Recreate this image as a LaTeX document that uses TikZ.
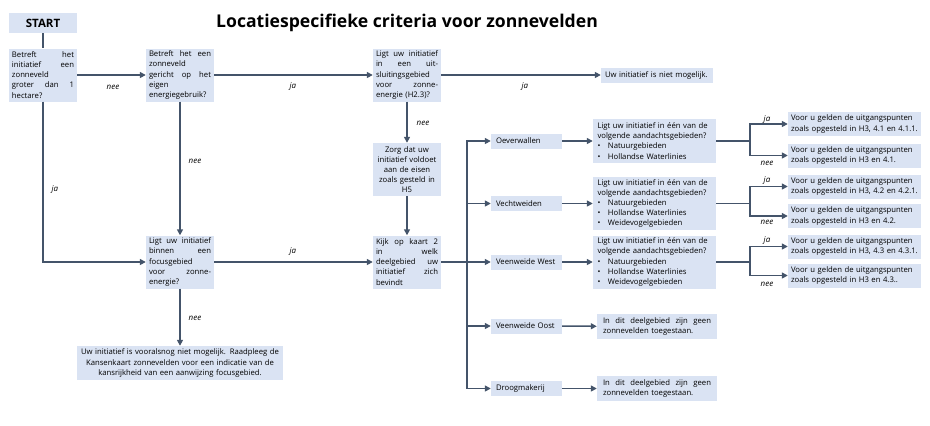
\documentclass[tikz,border=0pt]{standalone}
\usepackage{fontspec}
\setmainfont{Open Sans}
\usetikzlibrary{arrows.meta,positioning}
\definecolor{boxblue}{RGB}{218,227,243}
\definecolor{linegray}{RGB}{68,84,106}
\newcommand{\jl}[1]{{\spaceskip=0pt\xspaceskip=0pt\makebox[\hsize][s]{#1}}}
\newcommand{\bul}[1]{\makebox[10.5pt][l]{\textbullet}#1}
\tikzset{%
  >={Triangle[width=6pt,length=6pt]},
  % Specifications for style of nodes:
       base/.style = {rectangle, fill=boxblue, inner xsep=4pt, inner ysep=1pt,
                      font=\fontsize{7.7}{10.1}\selectfont},
   startbox/.style = {base, minimum width=68pt, minimum height=20pt,
                      font=\bfseries\fontsize{11.5}{13}\selectfont},
   decision/.style = {base, text width=62pt, inner xsep=3pt, minimum height=53pt, align=left},
     action/.style = {decision, align=center},
     region/.style = {base, text width=61pt, inner xsep=5pt, minimum height=15pt, align=left},
      areaq/.style = {base, text width=114pt, inner xsep=4.5pt, minimum height=53pt, align=left},
    outcome/.style = {base, text width=127pt, inner xsep=3pt, minimum height=24pt, align=left},
    refusal/.style = {base, text width=108pt, inner xsep=6pt, minimum height=25pt, align=left},
       stop/.style = {base, text width=104pt, inner xsep=4pt, minimum height=15pt, align=left},
     answer/.style = {font=\itshape\fontsize{8}{10}\selectfont},
}

\begin{document}
\begin{tikzpicture}[x=1pt, y=-1pt,
    flow/.style={draw=linegray, line width=1.5pt}]
    \useasboundingbox (0,0) rectangle (930,426);

    \node (title) at (407,23) {\bfseries\fontsize{17.6}{20}\selectfont Locatiespecifieke criteria voor zonnevelden};

    \node (start) [startbox] at (43,23) {START};
    \node (hectare) [decision] at (43,75) {\jl{Betreft het}\\ \jl{initiatief een}\\ zonneveld\\ \jl{groter dan 1}\\ hectare?};
    \node (eigen) [decision] at (180,75) {\jl{Betreft het een}\\ zonneveld\\ \jl{gericht op het}\\ eigen\\ energiegebruik?};
    \node (uitsluit) [decision] at (407,75) {\jl{Ligt uw initiatief}\\ \jl{in een uit-}\\ sluitingsgebied\\ \jl{voor zonne-}\\ energie (H2.3)?};
    \node (nietmog) [stop] at (657,75) {Uw initiatief is niet mogelijk.};
    \node (eisen) [action] at (407,169.5) {Zorg dat uw\\ initiatief voldoet\\ aan de eisen\\ zoals gesteld in\\ H5};
    \node (kaart) [decision] at (407,262) {\jl{Kijk op kaart 2}\\ \jl{in welk}\\ \jl{deelgebied uw}\\ \jl{initiatief zich}\\ bevindt};
    \node (focus) [decision] at (180,262) {\jl{Ligt uw initiatief}\\ \jl{binnen een}\\ focusgebied\\ \jl{voor zonne-}\\ energie?};
    \node (vooralsnog) [base, text width=200pt, inner xsep=3pt, minimum height=34pt, align=center] at (180,363)
        {Uw initiatief is vooralsnog niet mogelijk. Raadpleeg de\\ Kansenkaart zonnevelden voor een indicatie van de\\ kansrijkheid van een aanwijzing focusgebied.};

    % deelgebieden
    \node (oever) [region] at (526.5,141) {Oeverwallen};
    \node (vecht) [region] at (526.5,203.5) {Vechtweiden};
    \node (vwest) [region] at (526.5,262) {Veenweide West};
    \node (voost) [region] at (526.5,326) {Veenweide Oost};
    \node (droog) [region] at (526.5,388.5) {Droogmakerij};

    \node (q1) [areaq, minimum height=44pt] at (654.5,141) {Ligt uw initiatief in één van de\\ volgende aandachtsgebieden?\\ \bul{Natuurgebieden}\\ \bul{Hollandse Waterlinies}};
    \node (q2) [areaq] at (654.5,203.5) {Ligt uw initiatief in één van de\\ volgende aandachtsgebieden?\\ \bul{Natuurgebieden}\\ \bul{Hollandse Waterlinies}\\ \bul{Weidevogelgebieden}};
    \node (q3) [areaq] at (654.5,262) {Ligt uw initiatief in één van de\\ volgende aandachtsgebieden?\\ \bul{Natuurgebieden}\\ \bul{Hollandse Waterlinies}\\ \bul{Weidevogelgebieden}};
    \node (geen1) [refusal] at (657,326.5) {\jl{In dit deelgebied zijn geen}\\ zonnevelden toegestaan.};
    \node (geen2) [refusal] at (657,388.5) {\jl{In dit deelgebied zijn geen}\\ zonnevelden toegestaan.};

    \node (r1a) [outcome] at (854.5,124) {Voor u gelden de uitgangspunten\\ zoals opgesteld in H3, 4.1 en 4.1.1.};
    \node (r1b) [outcome] at (854.5,155.5) {Voor u gelden de uitgangspunten\\ zoals opgesteld in H3 en 4.1.};
    \node (r2a) [outcome] at (854.5,186.5) {Voor u gelden de uitgangspunten\\ zoals opgesteld in H3, 4.2 en 4.2.1.};
    \node (r2b) [outcome] at (854.5,216) {Voor u gelden de uitgangspunten\\ zoals opgesteld in H3 en 4.2.};
    \node (r3a) [outcome] at (854.5,246.5) {Voor u gelden de uitgangspunten\\ zoals opgesteld in H3, 4.3 en 4.3.1.};
    \node (r3b) [outcome] at (854.5,275.5) {Voor u gelden de uitgangspunten\\ zoals opgesteld in H3 en 4.3..};

    \coordinate (trunk) at (467,262);
    \coordinate (split1) at (750,141);
    \coordinate (split2) at (750,203.5);
    \coordinate (split3) at (750,262);

    % connectors
    \draw [flow] (start) -- (hectare);
    \draw [flow, ->] (hectare) -- (eigen);
    \draw [flow, ->] (hectare.south) |- (focus.west);
    \draw [flow, ->] (eigen) -- (uitsluit);
    \draw [flow, ->] (eigen) -- (focus);
    \draw [flow, ->] (uitsluit) -- (nietmog);
    \draw [flow, ->] (uitsluit) -- (eisen);
    \draw [flow, ->] (eisen) -- (kaart);
    \draw [flow, ->] (focus) -- (kaart);
    \draw [flow, ->] (focus) -- (vooralsnog);

    \draw [flow] (kaart) -- (trunk);
    \foreach \r in {oever, vecht, vwest, voost, droog}
        \draw [flow, ->] (trunk) |- (\r.west);
    \draw [flow, ->] (oever) -- (q1);
    \draw [flow, ->] (vecht) -- (q2);
    \draw [flow, ->] (vwest) -- (q3);
    \draw [flow, ->] (voost) -- (geen1);
    \draw [flow, ->] (droog) -- (geen2);

    \draw [flow] (q1) -- (split1);
    \draw [flow, ->] (split1) |- (r1a.west);
    \draw [flow, ->] (split1) |- (r1b.west);
    \draw [flow] (q2) -- (split2);
    \draw [flow, ->] (split2) |- (r2a.west);
    \draw [flow, ->] (split2) |- (r2b.west);
    \draw [flow] (q3) -- (split3);
    \draw [flow, ->] (split3) |- (r3a.west);
    \draw [flow, ->] (split3) |- (r3b.west);

    % answers
    \node (a1) [answer] at (113,87) {nee};
    \node (a2) [answer] at (55,190) {ja};
    \node (a3) [answer] at (293,87) {ja};
    \node (a4) [answer] at (195,161) {nee};
    \node (a5) [answer] at (525,87) {ja};
    \node (a6) [answer] at (423,123) {nee};
    \node (a7) [answer] at (293,252) {ja};
    \node (a8) [answer] at (195,318) {nee};
    \node (a9) [answer] at (767,120) {ja};
    \node (a10) [answer] at (767,163) {nee};
    \node (a11) [answer] at (767,181) {ja};
    \node (a12) [answer] at (767,222) {nee};
    \node (a13) [answer] at (767,241) {ja};
    \node (a14) [answer] at (767,284) {nee};
\end{tikzpicture}
\end{document}
